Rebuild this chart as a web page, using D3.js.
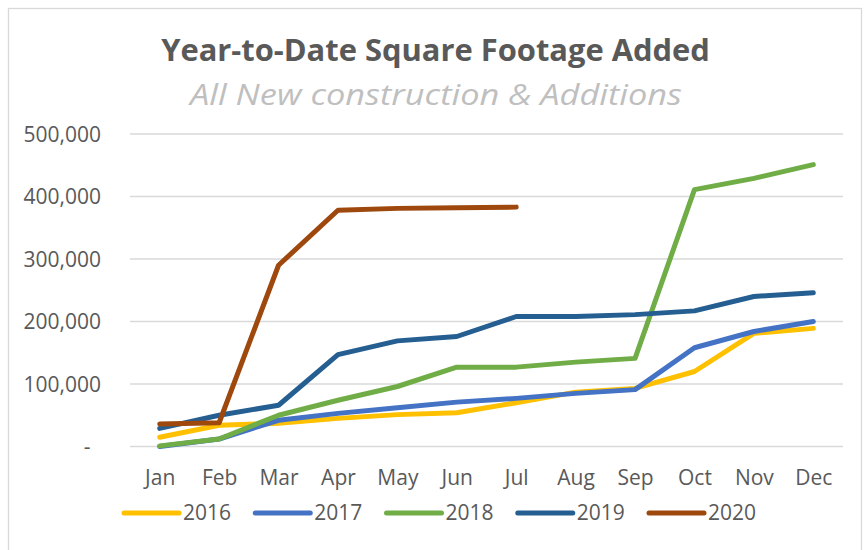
<!DOCTYPE html>
<html>
<head>
<meta charset="utf-8">
<script src="https://cdn.jsdelivr.net/npm/d3@7"></script>
<style>
  html, body { margin: 0; padding: 0; background: #fff; }
  svg { display: block; font-family: "Open Sans", "Noto Sans", sans-serif; }
</style>
</head>
<body>
<svg id="chart" width="866" height="550"></svg>
<script>
const months = ["Jan","Feb","Mar","Apr","May","Jun","Jul","Aug","Sep","Oct","Nov","Dec"];
const years = ["2016","2017","2018","2019","2020"];
const v2016 = [14700, 34000, 37000, 45000, 51000, 54000, 70000, 87000, 93000, 120000, 181000, 189000];
const v2017 = [0, 12000, 42000, 53000, 62000, 71000, 77000, 85000, 91000, 158000, 184000, 200000];
const v2018 = [1000, 12000, 50000, 74000, 96000, 127000, 127000, 135000, 141000, 411000, 429000, 451000];
const v2019 = [29000, 50000, 66000, 147000, 169000, 176000, 208000, 208000, 211000, 217000, 240000, 246000];
const v2020 = [36000, 38000, 290000, 378000, 381000, 382000, 383000];
const yTicks = [0, 100000, 200000, 300000, 400000, 500000];
const colors = ["#FFC000", "#4472C4", "#70AD47", "#255E91", "#9E480E"];
const titleText = "Year-to-Date Square Footage Added";
const subtitleText = "All New construction & Additions";

const seriesValues = [v2016, v2017, v2018, v2019, v2020];
const series = years.map((y, i) => ({ name: y, color: colors[i], values: seriesValues[i] }));

const svg = d3.select("#chart");
const textColor = "#595959";

// chart border
svg.append("rect").attr("x", 8.5).attr("y", 8.5).attr("width", 853).attr("height", 560)
  .attr("fill", "#fff").attr("stroke", "#d9d9d9").attr("stroke-width", 1.3);

const x = d3.scalePoint().domain(months).range([130, 843]).padding(0.5);
const y = d3.scaleLinear().domain([0, 500000]).range([446.5, 134]);

// gridlines
svg.append("g").selectAll("line").data(yTicks).join("line")
  .attr("x1", 130).attr("x2", 843)
  .attr("y1", d => y(d)).attr("y2", d => y(d))
  .attr("stroke", "#d9d9d9").attr("stroke-width", 1.3);

// y axis labels
const fmt = d3.format(",");
const yAxis = d3.axisLeft(y).tickValues(yTicks).tickSize(0).tickPadding(0)
  .tickFormat(d => d === 0 ? "-" : fmt(d));
const gy = svg.append("g").attr("transform", "translate(101,0)").call(yAxis);
gy.select(".domain").remove();
gy.selectAll("text").attr("fill", textColor).attr("font-size", 21)
  .attr("font-family", "'Open Sans', sans-serif").attr("dy", "0.35em");
gy.selectAll(".tick").filter(d => d === 0).select("text")
  .attr("text-anchor", "middle").attr("x", -14);

// x axis labels
const xAxis = d3.axisBottom(x).tickSize(0).tickPadding(0);
const gx = svg.append("g").attr("transform", "translate(0,485)").call(xAxis);
gx.select(".domain").remove();
gx.selectAll("text").attr("fill", textColor).attr("font-size", 21)
  .attr("font-family", "'Open Sans', sans-serif").attr("dy", 0);

// lines
const line = d3.line().x((d, i) => x(months[i])).y(d => y(d));
svg.append("g").selectAll("path").data(series).join("path")
  .attr("d", d => line(d.values))
  .attr("fill", "none").attr("stroke", d => d.color)
  .attr("stroke-width", 5).attr("stroke-linecap", "round").attr("stroke-linejoin", "round");

// title & subtitle: keep cap height, condense horizontally to match width
function fitted(cx, cy, target, attrs, txt) {
  const g = svg.append("g");
  const t = g.append("text").attr("x", 0).attr("y", 0).attr("text-anchor", "middle").text(txt);
  Object.entries(attrs).forEach(([k, v]) => t.attr(k, v));
  const w = t.node().getComputedTextLength();
  g.attr("transform", `translate(${cx},${cy}) scale(${target / w},1)`);
}
fitted(435.5, 61, 549, { "font-weight": "bold", "font-size": 30, "fill": textColor }, titleText);
fitted(436, 105, 492, { "font-style": "italic", "font-size": 30, "fill": "#bfbfbf" }, subtitleText);

// legend
const leg = svg.append("g").selectAll("g").data(series).join("g")
  .attr("transform", (d, i) => `translate(${124 + i * 131.25},513)`);
leg.append("line").attr("x1", 0).attr("x2", 55).attr("y1", 0).attr("y2", 0)
  .attr("stroke", d => d.color).attr("stroke-width", 5).attr("stroke-linecap", "round");
leg.append("text").attr("x", 59).attr("y", 0).attr("dy", "0.35em")
  .attr("font-size", 21).attr("fill", textColor).text(d => d.name);
</script>
</body>
</html>
